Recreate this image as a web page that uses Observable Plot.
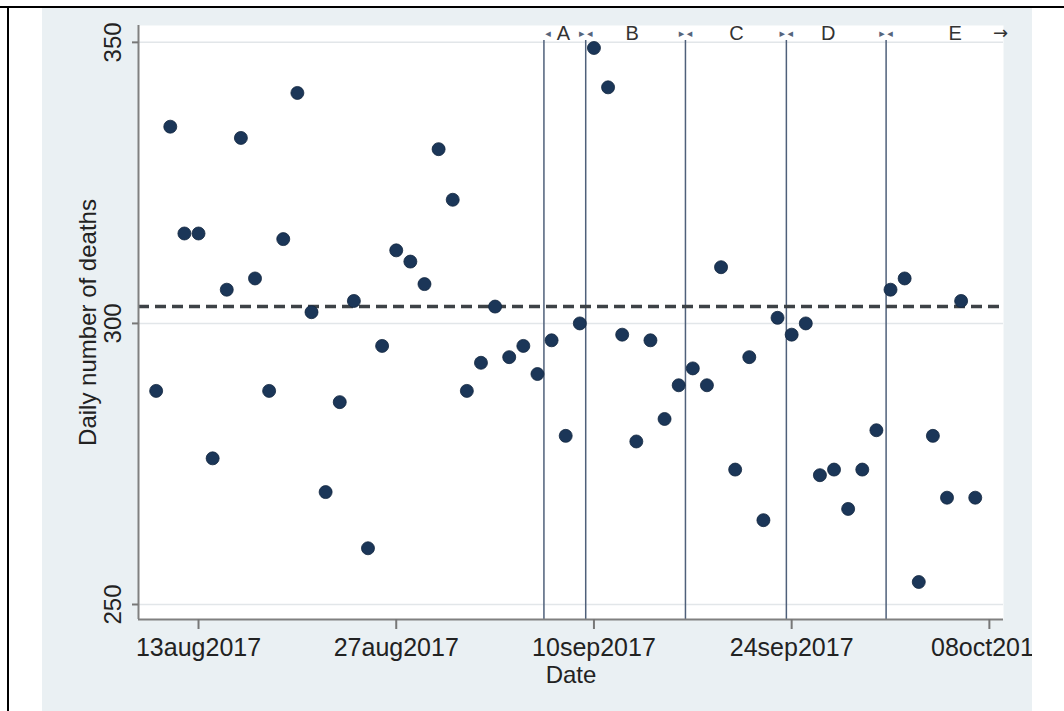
<!DOCTYPE html>
<html><head><meta charset="utf-8">
<script src="https://cdn.jsdelivr.net/npm/d3@7"></script>
<script src="https://cdn.jsdelivr.net/npm/@observablehq/plot@0.6"></script>
<style>
html,body{margin:0;padding:0;background:#fff;}
#frame{position:relative;width:1064px;height:711px;overflow:hidden;}
#topline{position:absolute;left:0;top:6px;width:1064px;height:2px;background:#000;}
#leftline{position:absolute;left:7px;top:6px;width:2px;height:705px;background:#000;}
#chart{position:absolute;left:42px;top:8px;}
</style></head><body>
<div id="frame"><div id="chart"></div><div id="topline"></div><div id="leftline"></div></div>
<script>
const dates = [
 "2017-08-10","2017-08-11","2017-08-12","2017-08-13","2017-08-14","2017-08-15","2017-08-16","2017-08-17","2017-08-18","2017-08-19",
 "2017-08-20","2017-08-21","2017-08-22","2017-08-23","2017-08-24","2017-08-25","2017-08-26","2017-08-27","2017-08-28","2017-08-29",
 "2017-08-30","2017-08-31","2017-09-01","2017-09-02","2017-09-03","2017-09-04","2017-09-05","2017-09-06","2017-09-07","2017-09-08",
 "2017-09-09","2017-09-10","2017-09-11","2017-09-12","2017-09-13","2017-09-14","2017-09-15","2017-09-16","2017-09-17","2017-09-18",
 "2017-09-19","2017-09-20","2017-09-21","2017-09-22","2017-09-23","2017-09-24","2017-09-25","2017-09-26","2017-09-27","2017-09-28",
 "2017-09-29","2017-09-30","2017-10-01","2017-10-02","2017-10-03","2017-10-04","2017-10-05","2017-10-06","2017-10-07"
];
const deaths = [
 288,335,316,316,276,306,333,308,288,315,
 341,302,270,286,304,260,296,313,311,307,
 331,322,288,293,303,294,296,291,297,280,
 300,349,342,298,279,297,283,289,292,289,
 310,274,294,265,301,298,300,273,274,267,
 274,281,306,308,254,280,269,304,269
];
const meanDeaths = 303;
const yTicks = [250, 300, 350];
const xTickDates = ["2017-08-13","2017-08-27","2017-09-10","2017-09-24","2017-10-08"];
const periodBounds = ["2017-09-06T11:00Z","2017-09-09T10:00Z","2017-09-16T11:30Z","2017-09-23T15:00Z","2017-09-30T16:30Z"];
const periodLabels = ["A","B","C","D","E"];
const periodLabelDates = ["2017-09-07T20:00Z","2017-09-12T17:00Z","2017-09-20T02:00Z","2017-09-26T14:00Z","2017-10-05T14:00Z"];
const openEndDate = "2017-10-08T19:00Z";
const xDomain = ["2017-08-08T18:00Z","2017-10-09T00:00Z"];
const yDomain = [247.33, 353];
const yTitle = "Daily number of deaths";
const xTitle = "Date";

const table = dates.map((d, i) => ({date: new Date(d), deaths: deaths[i]}));
const fmt = d => d3.utcFormat("%d%b%Y")(d).toLowerCase();
const tc = "#222";

const chart = Plot.plot({
  width: 990, height: 703,
  marginLeft: 96, marginRight: 29, marginTop: 17, marginBottom: 92,
  style: {background: "#eaf0f3", fontFamily: "'Liberation Sans', Arial, sans-serif", overflow: "hidden", color: tc},
  x: {type: "utc", domain: xDomain.map(d => new Date(d))},
  y: {domain: yDomain},
  marks: [
    Plot.frame({fill: "white", stroke: "none"}),
    Plot.ruleY(yTicks, {y: d => d, stroke: "#e2e6e9", strokeWidth: 1.5}),
    Plot.ruleX(periodBounds, {x: d => new Date(d), stroke: "#4f607a", strokeWidth: 1.5, insetTop: 15}),
    Plot.ruleY([meanDeaths], {y: d => d, stroke: "#3d4246", strokeWidth: 3.5, strokeDasharray: "11,6"}),
    Plot.dot(table, {x: "date", y: "deaths", r: 6.5, fill: "#1b3658", stroke: "#12263f", strokeWidth: 0.8}),
    Plot.ruleX([xDomain[0]], {x: d => new Date(d), stroke: "#808080", strokeWidth: 2}),
    Plot.ruleY([yDomain[0]], {y: d => d, stroke: "#808080", strokeWidth: 2}),
    Plot.axisX({ticks: xTickDates.map(d => new Date(d)), tickFormat: fmt, tickSize: 10, tickPadding: 9,
      fontSize: 25, stroke: "#777", strokeWidth: 2, fill: tc, label: null}),
    Plot.axisY({ticks: yTicks, tickFormat: () => "", tickSize: 6, stroke: "#777", strokeWidth: 2, label: null}),
    Plot.text(yTicks, {y: d => d, text: d => String(d), frameAnchor: "left", textAnchor: "middle", lineAnchor: "middle", rotate: -90, dx: -25, fontSize: 24, fill: tc}),
    Plot.text([yTitle], {text: d => d, frameAnchor: "left", textAnchor: "middle", lineAnchor: "middle", rotate: -90, dx: -50, fontSize: 24, fill: tc}),
    Plot.text([xTitle], {text: d => d, frameAnchor: "bottom", textAnchor: "middle", lineAnchor: "middle", dy: 56, fontSize: 24, fill: tc}),
    Plot.text(periodLabels, {x: (d, i) => new Date(periodLabelDates[i]), text: d => d, frameAnchor: "top", lineAnchor: "middle", dy: 8, fontSize: 20, fill: "#333"}),
    Plot.text(periodBounds, {x: d => new Date(d), text: () => "\u25C2", frameAnchor: "top", lineAnchor: "middle", dy: 8, dx: 4, fontSize: 11, fill: "#55657d", fontFamily: "DejaVu Sans"}),
    Plot.text(periodBounds.slice(1), {x: d => new Date(d), text: () => "\u25B8", frameAnchor: "top", lineAnchor: "middle", dy: 8, dx: -4, fontSize: 11, fill: "#55657d", fontFamily: "DejaVu Sans"}),
    Plot.text([openEndDate], {x: d => new Date(d), text: () => "\u2192", frameAnchor: "top", lineAnchor: "middle", dy: 8, fontSize: 18, fill: "#333", fontFamily: "DejaVu Sans"})
  ]
});
document.getElementById("chart").appendChild(chart);
</script>
</body></html>
